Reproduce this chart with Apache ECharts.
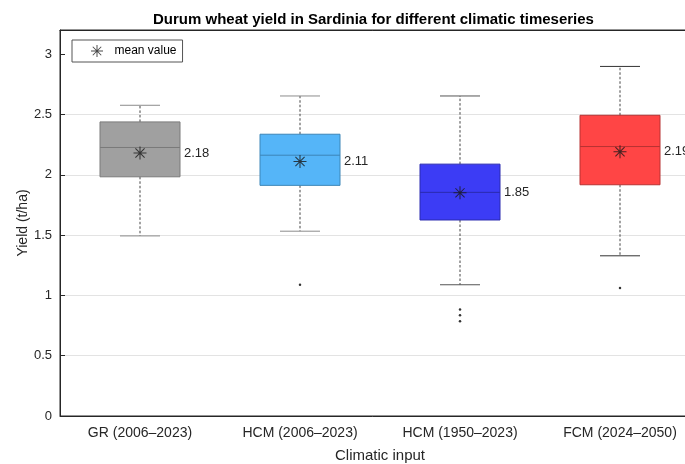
<!DOCTYPE html>
<html>
<head>
<meta charset="utf-8">
<script src="https://cdn.jsdelivr.net/npm/echarts@6/dist/echarts.min.js"></script>
<style>html,body{margin:0;padding:0;background:#fff}#c{width:685px;height:464px}</style>
</head>
<body>
<div id="c"></div>
<script>
const categories = ['GR (2006\u20132023)', 'HCM (2006\u20132023)', 'HCM (1950\u20132023)', 'FCM (2024\u20132050)'];
const whiskerLow = [1.493, 1.532, 1.088, 1.328];
const q1 = [1.983, 1.912, 1.625, 1.917];
const median = [2.226, 2.162, 1.854, 2.234];
const q3 = [2.438, 2.336, 2.088, 2.493];
const whiskerHigh = [2.576, 2.653, 2.653, 2.898];
const means = [2.18, 2.11, 1.85, 2.19];
const outliers = [[1, 1.088], [2, 0.882], [2, 0.835], [2, 0.785], [3, 1.061]];
const yTicks = [0, 0.5, 1, 1.5, 2, 2.5, 3];

const fills = ['#a0a0a0', '#55b5f8', '#3c3cf5', '#ff4545'];
const strokes = ['#7a7a7a', '#3c86b8', '#2a2ab0', '#b83232'];
const capColors = ['#8c8c8c', '#8c8c8c', '#555555', '#333333'];
const FONT = '"Liberation Sans", Arial, Helvetica, sans-serif';
const STAR = 'path://M-10,-0.8L10,-0.8L10,0.8L-10,0.8Z M-0.8,-10L0.8,-10L0.8,10L-0.8,10Z M-7.64,-6.5L-6.5,-7.64L7.64,6.5L6.5,7.64Z M-6.5,7.64L-7.64,6.5L6.5,-7.64L7.64,-6.5Z';

const boxData = categories.map((c, i) => [i, whiskerLow[i], q1[i], median[i], q3[i], whiskerHigh[i], means[i]]);

function renderBox(params, api) {
  const i = api.value(0);
  const yOf = v => api.coord([i, v])[1];
  const x = api.coord([i, api.value(3)])[0];
  const w = api.size([1, 0])[0] * 0.5;
  const cw = w / 2;
  const yLo = yOf(api.value(1)), yQ1 = yOf(api.value(2)), yMed = yOf(api.value(3));
  const yQ3 = yOf(api.value(4)), yHi = yOf(api.value(5)), yMean = yOf(api.value(6));
  const dash = { stroke: '#444', lineWidth: 1, lineDash: [2.5, 2] };
  return {
    type: 'group',
    children: [
      { type: 'line', shape: { x1: x, y1: yQ3, x2: x, y2: yHi }, style: dash },
      { type: 'line', shape: { x1: x, y1: yQ1, x2: x, y2: yLo }, style: dash },
      { type: 'line', shape: { x1: x - cw / 2, y1: yHi, x2: x + cw / 2, y2: yHi }, style: { stroke: capColors[i], lineWidth: 1 } },
      { type: 'line', shape: { x1: x - cw / 2, y1: yLo, x2: x + cw / 2, y2: yLo }, style: { stroke: capColors[i], lineWidth: 1 } },
      { type: 'rect', shape: { x: x - w / 2, y: yQ3, width: w, height: yQ1 - yQ3 }, style: { fill: fills[i], stroke: strokes[i], lineWidth: 1 } },
      { type: 'line', shape: { x1: x - w / 2, y1: yMed, x2: x + w / 2, y2: yMed }, style: { stroke: strokes[i], lineWidth: 1 } },
      { type: 'text', x: x + w / 2 + 4, y: yMean, style: { text: api.value(6).toFixed(2), fill: '#262626', font: '13px ' + FONT, verticalAlign: 'middle', align: 'left' } }
    ]
  };
}

const chart = echarts.init(document.getElementById('c'), null, { renderer: 'canvas' });
chart.setOption({
  animation: false,
  backgroundColor: '#fff',
  title: {
    text: 'Durum wheat yield in Sardinia for different climatic timeseries',
    left: 153, top: 12, padding: 0,
    textStyle: { fontFamily: FONT, fontSize: 15, fontWeight: 'bold', color: '#000' }
  },
  legend: {
    left: 72, top: 40,
    data: [{ name: 'mean value', icon: STAR }],
    itemWidth: 25, itemHeight: 12,
    padding: [5, 6, 5, 19],
    borderColor: '#555', borderWidth: 1, borderRadius: 0,
    backgroundColor: '#fff',
    textStyle: { fontFamily: FONT, fontSize: 12, color: '#000' }
  },
  grid: { left: 60, width: 640, top: 30, height: 386, outerBoundsMode: 'none', containLabel: false, show: true, borderColor: '#262626', borderWidth: 1, backgroundColor: 'transparent' },
  xAxis: [{
    type: 'category', data: categories, position: 'bottom',
    axisLine: { lineStyle: { color: '#262626' } },
    axisTick: { inside: true, alignWithLabel: true, length: 5, lineStyle: { color: '#262626' } },
    axisLabel: { fontFamily: FONT, fontSize: 14, color: '#262626', margin: 10 },
    name: 'Climatic input', nameLocation: 'middle', nameGap: 32,
    nameTextStyle: { fontFamily: FONT, fontSize: 15, color: '#262626' },
    splitLine: { show: false }
  }, {
    type: 'category', data: categories, position: 'top',
    axisLine: { lineStyle: { color: '#262626' } },
    axisTick: { inside: true, alignWithLabel: true, length: 5, lineStyle: { color: '#262626' } },
    axisLabel: { show: false }, splitLine: { show: false }
  }],
  yAxis: {
    type: 'value', min: 0, max: 3.2, interval: 0.5,
    axisLine: { show: true, lineStyle: { color: '#262626' } },
    axisTick: { show: true, inside: true, length: 5, lineStyle: { color: '#262626' }, customValues: yTicks },
    axisLabel: { fontFamily: FONT, fontSize: 13, color: '#262626', margin: 8, customValues: yTicks, formatter: v => String(v) },
    splitLine: { show: true, showMaxLine: false, lineStyle: { color: '#e3e3e3', width: 1 } },
    name: 'Yield (t/ha)', nameLocation: 'middle', nameGap: 30, nameMoveOverlap: false,
    nameTextStyle: { fontFamily: FONT, fontSize: 14, color: '#262626' }
  },
  series: [
    { type: 'custom', name: 'box', renderItem: renderBox, data: boxData, encode: { x: 0, y: [1, 2, 3, 4, 5] }, z: 2, silent: true },
    { type: 'scatter', name: 'outliers', data: outliers, symbol: 'circle', symbolSize: 2.5, itemStyle: { color: '#000' }, z: 3, silent: true },
    { type: 'scatter', name: 'mean value', data: means.map((m, i) => [i, m]), symbol: STAR, symbolSize: 13, symbolKeepAspect: true, itemStyle: { color: '#1a1a1a' }, z: 4, silent: true }
  ]
});
</script>
</body>
</html>
